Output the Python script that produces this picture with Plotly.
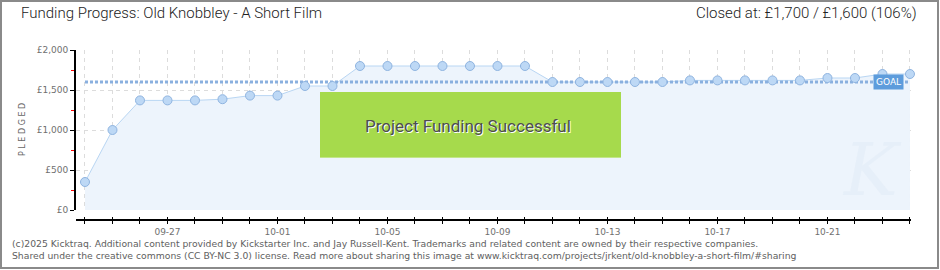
import plotly.graph_objects as go
import pandas as pd

# ---- data ----
dates = pd.date_range("2025-09-24", periods=31, freq="D")
pledged = [350, 1000, 1370, 1370, 1370, 1385, 1430, 1430, 1550, 1550,
           1800, 1800, 1800, 1800, 1800, 1800, 1800, 1600, 1600, 1600,
           1600, 1600, 1620, 1620, 1620, 1620, 1620, 1650, 1650, 1700, 1700]
goal = 1600
y_ticks = [0, 500, 1000, 1500, 2000]
y_labels = ["£0", "£500", "£1,000", "£1,500", "£2,000"]
title_left = "Funding Progress: Old Knobbley - A Short Film"
title_right = "Closed at: £1,700 / £1,600 (106%)"
banner = "Project Funding Successful"
footer1 = ("(c)2025 Kicktraq. Additional content provided by Kickstarter Inc. and Jay Russell-Kent. "
           "Trademarks and related content are owned by their respective companies.")
footer2 = ("Shared under the creative commons (CC BY-NC 3.0) license. Read more about sharing this image "
           "at www.kicktraq.com/projects/jrkent/old-knobbley-a-short-film/#sharing")

W, H = 940, 270
L, R, T, B = 76, 911, 50, 220   # plot box in pixels


def px(xp):
    return (xp - L) / (R - L)


def py(yp):
    return (B - yp) / (B - T)


x0 = dates[0] - pd.Timedelta(hours=7.85)
x1 = dates[-1] + pd.Timedelta(hours=0.9)
DAY = 86400000

fig = go.Figure()
fig.add_trace(go.Scatter(x=dates, y=pledged, mode="lines", fill="tozeroy",
                         fillcolor="#edf4fc", line=dict(color="#b9d6f3", width=1),
                         hoverinfo="skip", showlegend=False))
fig.add_trace(go.Scatter(x=[dates[0], dates[-1]], y=[goal, goal], mode="lines",
                         line=dict(color="#8ab0df", width=3, dash="3px,2px"),
                         hoverinfo="skip", showlegend=False))
fig.add_trace(go.Scatter(x=dates, y=pledged, mode="markers",
                         marker=dict(size=9, color="#bdd8f5", line=dict(color="#8fb4e0", width=1)),
                         cliponaxis=False, showlegend=False))
# invisible traces to keep helper axes alive
fig.add_trace(go.Scatter(x=[dates[0]], y=[0], xaxis="x2", mode="markers", opacity=0,
                         hoverinfo="skip", showlegend=False))
fig.add_trace(go.Scatter(x=[dates[0]], y=[0], xaxis="x3", mode="markers", opacity=0,
                         hoverinfo="skip", showlegend=False))

tickfont = dict(family="DejaVu Sans", size=9, color="#707070")
grid = dict(gridcolor="#dcdcdc", griddash="4px,4px", gridwidth=1)

fig.update_layout(
    width=W, height=H,
    margin=dict(l=L, r=W - R, t=T, b=H - B),
    paper_bgcolor="white", plot_bgcolor="rgba(0,0,0,0)",
    xaxis=dict(
        type="date", range=[x0, x1], anchor="free", position=0,
        tick0=dates[3], dtick=4 * DAY, tickformat="%m-%d",
        ticks="outside", ticklen=3, tickcolor="black", tickwidth=1,
        tickfont=tickfont,
        showline=True, linecolor="black", linewidth=2,
        showgrid=False,
        minor=dict(dtick=DAY, tick0=dates[0], ticks="outside", ticklen=3,
                   tickcolor="black", showgrid=False),
        zeroline=False, fixedrange=True,
    ),
    xaxis2=dict(
        type="date", range=[x0, x1], overlaying="x", anchor="y",
        dtick=DAY, tick0=dates[0], showticklabels=False, ticks="",
        showline=False, showgrid=True, **grid, zeroline=False, fixedrange=True,
    ),
    xaxis3=dict(
        type="date", range=[x0, x1], overlaying="x", anchor="free", position=0,
        dtick=DAY, tick0=dates[0], showticklabels=False, ticks="inside", ticklen=3,
        tickcolor="black", showline=False, showgrid=False, zeroline=False, fixedrange=True,
    ),
    yaxis=dict(
        range=[0, 2000], domain=[py(210), 1],
        tickvals=y_ticks, ticktext=y_labels, tickfont=tickfont,
        ticks="outside", ticklen=4, tickcolor="black", tickwidth=1,
        showline=True, linecolor="black", linewidth=2,
        showgrid=True, **grid,
        minor=dict(dtick=250, tick0=250, ticks="outside", ticklen=3, tickcolor="red", showgrid=False),
        zeroline=False, fixedrange=True,
    ),
    font=dict(family="DejaVu Sans"),
)

shapes = [
    # outer frame
    dict(type="rect", xref="paper", yref="paper", x0=px(1), x1=px(938), y0=py(1), y1=py(268),
         line=dict(color="#8a8a8a", width=2), fillcolor="rgba(0,0,0,0)", layer="above"),
    # success banner
    dict(type="rect", xref="paper", yref="paper", x0=px(320), x1=px(621), y0=py(92), y1=py(158),
         line=dict(width=0), fillcolor="#a6da4c", layer="above"),
    dict(type="line", xref="paper", yref="paper", x0=px(320), x1=px(621), y0=py(157.5), y1=py(157.5),
         line=dict(color="#c2e58a", width=1), layer="above"),
]
fig.update_layout(shapes=shapes)

ann = [
    dict(text=title_left, xref="paper", yref="paper", x=px(19), y=py(24), xanchor="left", yanchor="bottom",
         showarrow=False, font=dict(family="Roboto", size=15, color="#222", weight=300)),
    dict(text=title_right, xref="paper", yref="paper", x=px(919), y=py(24), xanchor="right", yanchor="bottom",
         showarrow=False, font=dict(family="Roboto", size=15, color="#222", weight=300)),
    dict(text=banner, xref="paper", yref="paper", x=px(468), y=py(126), xanchor="center", yanchor="middle",
         showarrow=False,
         font=dict(family="Roboto", size=17, color="#4d4d4d", weight=400, shadow="1px 1px 0px #ffffff")),
    dict(text="P L E D G E D", xref="paper", yref="paper", x=px(22), y=py(130), textangle=-90,
         xanchor="center", yanchor="middle", showarrow=False,
         font=dict(family="DejaVu Sans", size=8, color="#666")),
    dict(text="GOAL", x=dates[-1], y=goal, xanchor="right", yanchor="middle", xshift=-6,
         showarrow=False, bgcolor="#5d9cdc", borderpad=2,
         font=dict(family="DejaVu Sans", size=9, color="white")),
    dict(text=footer1, xref="paper", yref="paper", x=px(10), y=py(243), xanchor="left", yanchor="middle",
         showarrow=False, font=dict(family="DejaVu Sans", size=9.25, color="#606060")),
    dict(text=footer2, xref="paper", yref="paper", x=px(10), y=py(256), xanchor="left", yanchor="middle",
         showarrow=False, font=dict(family="DejaVu Sans", size=9.25, color="#606060")),
    dict(text="K", xref="paper", yref="paper", x=px(872), y=py(170), xanchor="center", yanchor="middle",
         showarrow=False, font=dict(family="DejaVu Serif", size=72, color="rgba(215,228,242,0.3)", style="italic")),
]
fig.update_layout(annotations=ann)

fig.write_html("out.html")
